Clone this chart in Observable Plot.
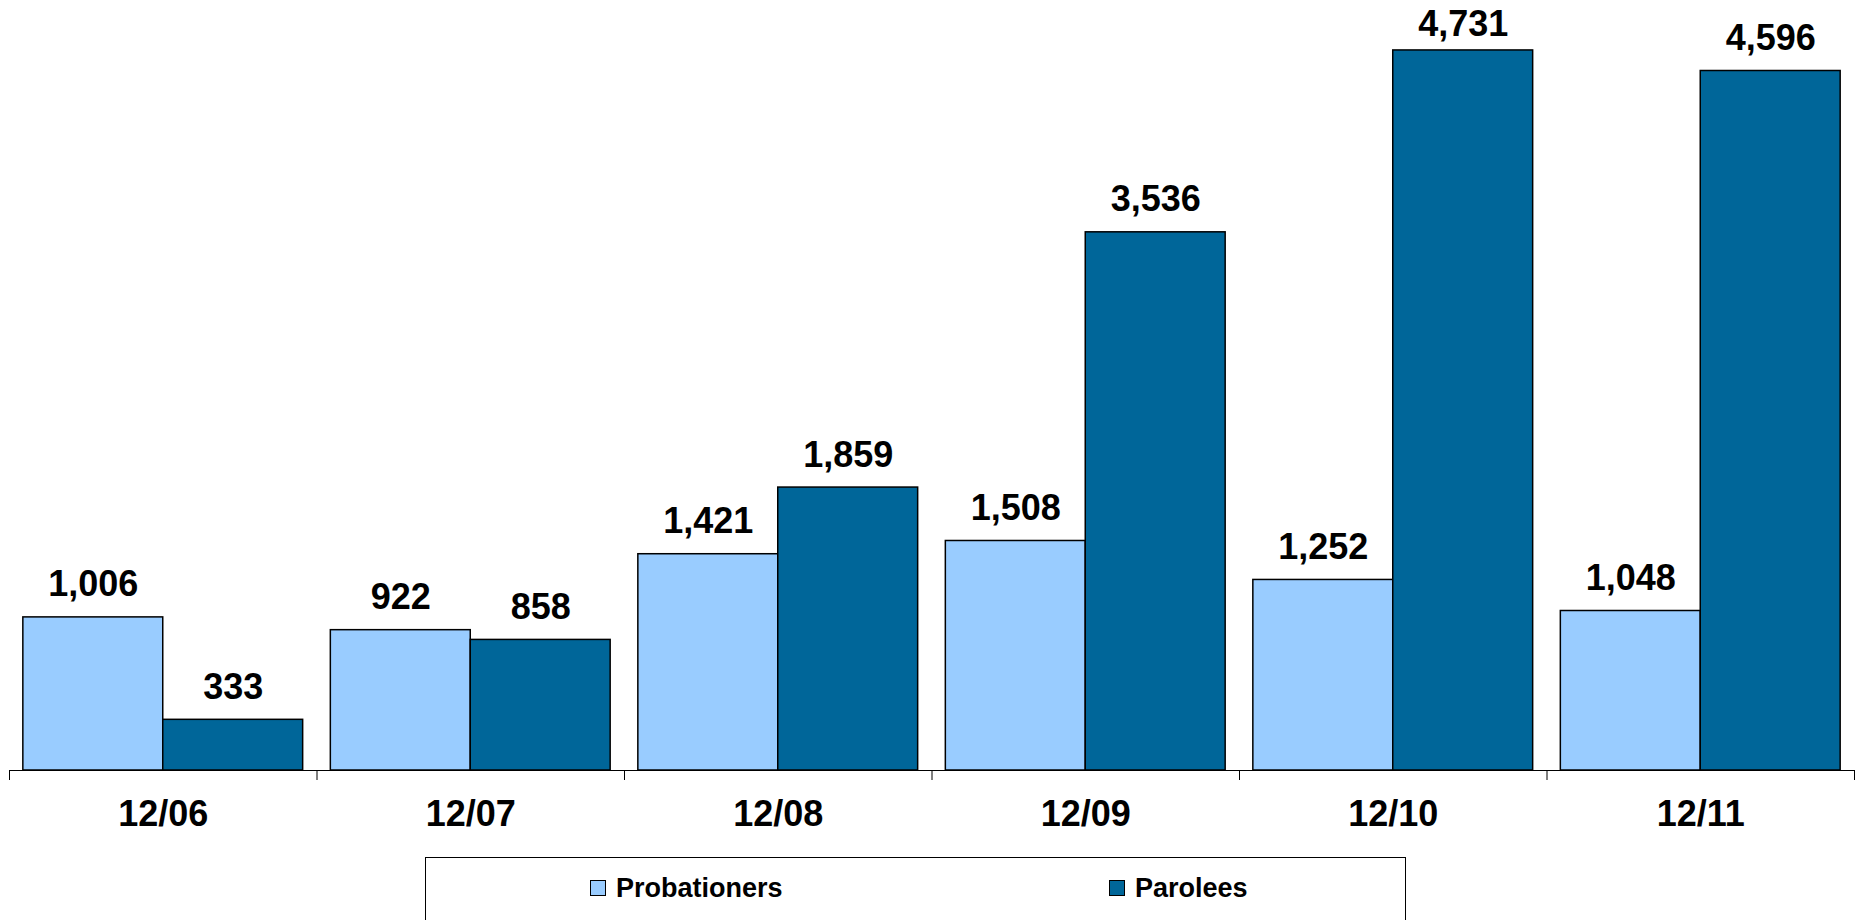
<!DOCTYPE html>
<html>
<head>
<meta charset="utf-8">
<script src="https://cdn.jsdelivr.net/npm/d3@7"></script>
<script src="https://cdn.jsdelivr.net/npm/@observablehq/plot@0.6"></script>
<style>
  html, body { margin: 0; padding: 0; background: #fff; }
  body { width: 1862px; height: 920px; overflow: hidden; font-family: "Liberation Sans", Arial, sans-serif; }
  #chart svg { display: block; }
  #legend { position: relative; margin-left: 425px; width: 979px; height: 120px; border: 1.5px solid #000; box-sizing: content-box; }
  .item { position: absolute; top: 14.5px; display: flex; align-items: center; gap: 10px; font-weight: bold; font-size: 27px; line-height: 30px; color: #000; }
  .sw { width: 14px; height: 14px; border: 1.5px solid #000; }
</style>
</head>
<body>
<div id="chart"></div>
<div id="legend"></div>
<script>
const periods = ["12/06", "12/07", "12/08", "12/09", "12/10", "12/11"];
const probationers = [1006, 922, 1421, 1508, 1252, 1048];
const parolees = [333, 858, 1859, 3536, 4731, 4596];
const seriesNames = ["Probationers", "Parolees"];
const seriesColors = ["#99CCFF", "#006699"];

const rows = periods.flatMap((p, i) => [
  {period: p, i, series: seriesNames[0], value: probationers[i]},
  {period: p, i, series: seriesNames[1], value: parolees[i]}
]);

const pad = 0.045;
const left = d => d.i + (d.series === seriesNames[0] ? pad : 0.5);
const right = d => d.i + (d.series === seriesNames[0] ? 0.5 : 1 - pad);
const fmt = d3.format(",");
const yMax = 5000;
// labels of the tallest bars sit closer to their bar so they stay inside the frame
const nearTop = d => d.value > 4650;

const labelOpts = {
  x: d => (left(d) + right(d)) / 2, y: "value", text: d => fmt(d.value),
  lineAnchor: "bottom", fontSize: 36, fontWeight: "bold", fill: "#000"
};

const chart = Plot.plot({
  width: 1862,
  height: 857,
  marginLeft: 9,
  marginRight: 8,
  marginTop: 9,
  marginBottom: 87,
  style: {fontFamily: "'Liberation Sans', Arial, sans-serif", color: "#000", background: "#fff"},
  x: {type: "linear", domain: [0, periods.length], ticks: d3.range(0, periods.length + 1), tickSize: 10, tickFormat: () => "", label: null},
  y: {domain: [0, yMax], axis: null},
  color: {domain: seriesNames, range: seriesColors},
  marks: [
    Plot.rect(rows, {x1: left, x2: right, y1: 0, y2: "value", fill: "series", stroke: "#000", strokeWidth: 1.5}),
    Plot.ruleY([0], {stroke: "#000", strokeWidth: 1.2}),
    Plot.text(rows.filter(d => !nearTop(d)), {...labelOpts, dy: -21}),
    Plot.text(rows.filter(nearTop), {...labelOpts, dy: -14}),
    Plot.text(periods, {
      x: (d, i) => i + 0.5, text: d => d, frameAnchor: "bottom",
      lineAnchor: "bottom", dy: 55, fontSize: 36, fontWeight: "bold", fill: "#000"
    })
  ]
});
document.getElementById("chart").appendChild(chart);

const legend = document.getElementById("legend");
const itemLefts = [164, 683];
seriesNames.forEach((name, k) => {
  const it = document.createElement("div");
  it.className = "item";
  it.style.left = itemLefts[k] + "px";
  const sw = document.createElement("span");
  sw.className = "sw";
  sw.style.background = seriesColors[k];
  const tx = document.createElement("span");
  tx.textContent = name;
  it.appendChild(sw);
  it.appendChild(tx);
  legend.appendChild(it);
});
</script>
</body>
</html>
